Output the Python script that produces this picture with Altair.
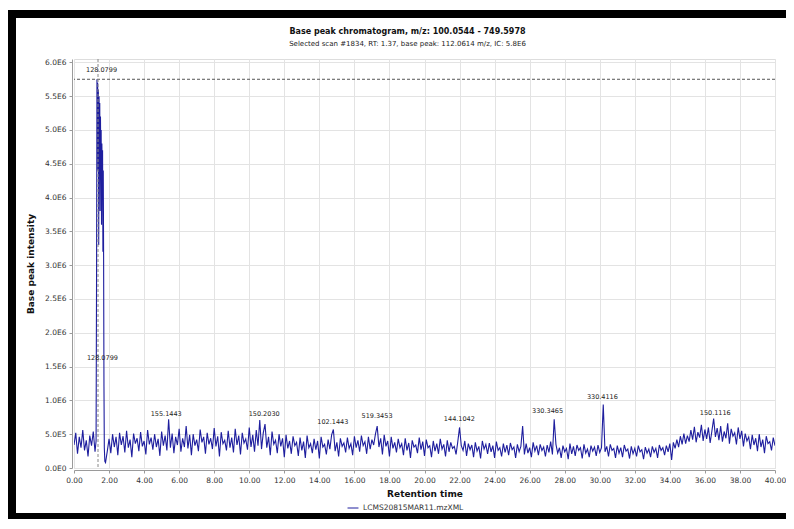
import altair as alt
import pandas as pd

# ---- data (intensities in units of 1e5) ----
pre_rt = [0.0, 0.1, 0.2, 0.3, 0.4, 0.5, 0.6, 0.7, 0.8, 0.9, 1.0, 1.1, 1.2]
pre_int = [3.4, 5.2, 2.1, 4.6, 3.0, 5.6, 2.6, 4.1, 1.7, 4.8, 3.3, 5.4, 2.4]

peak_rt = [1.26, 1.29, 1.31, 1.33, 1.35, 1.37, 1.39, 1.41, 1.43, 1.45, 1.47, 1.49, 1.51,
           1.53, 1.55, 1.57, 1.59, 1.61, 1.63, 1.65, 1.67, 1.69, 1.71, 1.73, 1.76]
peak_int = [4.0, 31.0, 57.5, 46.0, 57.0, 44.0, 56.0, 33.0, 55.0, 47.0, 54.0, 38.0, 52.0,
            45.0, 50.0, 36.0, 48.0, 43.0, 47.0, 32.0, 44.0, 31.0, 12.0, 3.0, 1.0]

post_start = 1.8
post_int = [
    0.8, 2.5, 4.3, 2.2, 5.0, 3.1, 4.6, 1.9, 5.2, 3.4,
    4.7, 2.3, 5.5, 3.0, 4.2, 1.6, 5.1, 3.6, 4.4, 2.5,
    5.3, 3.2, 4.0, 2.0, 5.6, 3.5, 4.5, 2.7, 5.0, 3.1,
    4.3, 1.8, 5.4, 3.3, 4.8, 2.6, 7.2, 3.0, 5.1, 2.2,
    4.6, 3.4, 5.8, 2.4, 4.4, 3.1, 6.2, 2.9, 4.9, 1.9,
    5.0, 3.3, 4.2, 2.5, 5.7, 3.8, 4.6, 2.1, 5.2, 3.5,
    4.4, 2.8, 5.9, 3.2, 4.7, 1.7, 5.3, 3.6, 4.1, 2.6,
    5.5, 3.0, 4.5, 2.3, 5.8, 3.4, 4.8, 2.0, 5.2, 3.7,
    4.3, 2.7, 6.0, 3.1, 4.9, 2.4, 5.6, 3.3, 7.1, 2.8,
    5.2, 6.5, 3.0, 4.6, 1.9, 5.4, 3.5, 4.1, 2.2, 5.0,
    3.2, 4.4, 1.6, 4.9, 2.9, 4.0, 2.1, 4.7, 3.3, 3.8,
    1.8, 4.5, 2.6, 3.9, 1.5, 4.8, 3.0, 3.6, 2.2, 4.3,
    2.7, 4.0, 1.4, 4.6, 3.1, 3.5, 2.0, 4.2, 2.8, 4.9,
    5.7, 2.5, 3.8, 1.7, 4.4, 3.2, 3.7, 2.3, 4.5, 2.9,
    3.6, 1.9, 4.7, 3.0, 4.1, 2.4, 4.8, 3.3, 3.9, 2.1,
    4.6, 2.8, 4.2, 3.4, 5.0, 6.2, 3.1, 4.4, 2.0, 4.9,
    3.2, 4.0, 1.7, 4.6, 2.9, 3.8, 2.3, 4.3, 3.0, 3.6,
    1.9, 4.4, 2.6, 3.7, 1.5, 4.1, 3.1, 3.4, 2.2, 4.5,
    2.7, 3.9, 1.8, 4.2, 3.0, 3.3, 1.6, 4.0, 2.5, 3.6,
    2.1, 4.3, 2.8, 3.5, 1.7, 4.1, 2.4, 3.8, 2.9, 3.2,
    2.0, 3.9, 6.0, 3.3, 2.6, 4.0, 1.8, 3.6, 2.7, 3.4,
    1.6, 3.8, 2.5, 3.2, 1.4, 4.0, 2.8, 3.5, 2.1, 3.7,
    2.4, 3.3, 1.5, 3.9, 2.6, 3.0, 1.7, 3.6, 2.3, 3.4,
    1.9, 3.7, 2.7, 3.1, 1.5, 3.5, 2.4, 3.2, 6.2, 2.0,
    3.6, 2.2, 3.0, 1.6, 3.8, 2.5, 3.3, 1.9, 3.5, 2.6,
    3.1, 1.7, 3.4, 2.3, 3.9, 2.0, 7.2, 3.5, 2.2, 3.0,
    1.5, 3.3, 2.4, 2.9, 1.3, 3.6, 2.1, 3.2, 1.8, 3.4,
    2.6, 3.0, 1.4, 3.5, 2.2, 2.8, 1.6, 3.3, 2.5, 3.1,
    1.8, 3.4, 2.3, 3.0, 9.4, 2.4, 3.2, 1.7, 3.5, 2.6,
    2.9, 1.5, 3.3, 2.2, 3.0, 1.6, 3.4, 2.5, 2.8, 1.4,
    3.2, 2.1, 2.9, 1.7, 3.3, 2.4, 2.7, 1.3, 3.1, 2.2,
    2.8, 1.6, 3.2, 2.3, 2.9, 1.5, 3.4, 2.6, 3.0, 1.9,
    3.3, 2.4, 3.6, 1.2, 3.8, 2.9, 4.2, 3.1, 4.7, 3.5,
    5.1, 3.6, 4.8, 3.9, 5.6, 4.2, 6.1, 3.8, 5.3, 4.5,
    6.4, 4.0, 5.7, 4.3, 6.0, 3.7, 5.5, 7.3, 4.6, 5.9,
    4.1, 6.2, 3.9, 5.4, 4.4, 6.6, 3.6, 5.8, 4.7, 5.2,
    3.5, 6.0, 4.3, 5.5, 3.2, 5.1, 4.0, 4.6, 2.8, 4.9,
    3.4, 4.4, 2.5, 5.0, 3.1, 4.2, 2.2, 4.7, 3.6, 3.9,
    2.6, 4.5, 3.3,
]

label_text = ["128.0799", "128.0799", "155.1443", "150.2030", "102.1443", "519.3453",
              "144.1042", "330.3465", "330.4116", "150.1116"]
label_rt = [1.57, 1.62, 5.26, 10.85, 14.77, 17.29, 21.99, 27.02, 30.15, 36.59]
label_int = [58.8, 16.2, 8.0, 8.0, 6.8, 7.7, 7.2, 8.4, 10.5, 8.1]

x_ticks = [0, 2, 4, 6, 8, 10, 12, 14, 16, 18, 20, 22, 24, 26, 28, 30, 32, 34, 36, 38, 40]
y_ticks = [0, 5e5, 1e6, 1.5e6, 2e6, 2.5e6, 3e6, 3.5e6, 4e6, 4.5e6, 5e6, 5.5e6, 6e6]

selected_rt = 1.37
selected_int = 57.5
file_name = "LCMS20815MAR11.mzXML"

# ---- build tables ----
post_rt = [round(post_start + 0.1 * i, 1) for i in range(len(post_int))]
df = pd.DataFrame({
    "rt": pre_rt + peak_rt + post_rt,
    "intensity": [v * 1e5 for v in pre_int + peak_int + post_int],
    "file": file_name,
})
labels = pd.DataFrame({
    "rt": label_rt,
    "intensity": [v * 1e5 for v in label_int],
    "text": label_text,
})

FONT = "DejaVu Sans"
W, H = 701, 409
PAD = {"left": 66, "top": 51, "right": 11, "bottom": 51}

xscale = alt.Scale(domain=[0, 40], nice=False, zero=False)
yscale = alt.Scale(domain=[0, 6.05e6], nice=False)

X = alt.X("rt:Q", scale=xscale,
          axis=alt.Axis(values=x_ticks, format=".2f", title="Retention time",
                        labelFontSize=7.5, titleFontSize=9, titleFontWeight="bold",
                        titleColor="#111", labelColor="#333", grid=True, labelFlush=False,
                        labelOverlap=False,
                        gridColor="#e3e3e3", domainColor="#9a9a9a", tickColor="#9a9a9a",
                        tickSize=3, offset=2, titlePadding=6, labelPadding=3))
Y = alt.Y("intensity:Q", scale=yscale,
          axis=alt.Axis(values=y_ticks, title="Base peak intensity",
                        labelExpr="replace(format(datum.value, '.1e'), 'e+', 'E')",
                        labelFontSize=7.5, titleFontSize=9, titleFontWeight="bold",
                        titleColor="#111", labelColor="#333", grid=True, labelFlush=False,
                        labelOverlap=False,
                        gridColor="#e3e3e3", domainColor="#9a9a9a", tickColor="#9a9a9a",
                        tickSize=3, offset=2, titlePadding=9, labelPadding=3))

line = alt.Chart(df).mark_line(strokeWidth=1.1, clip=True).encode(
    x=X, y=Y,
    color=alt.Color("file:N", scale=alt.Scale(range=["#1e1e9e"]),
                    legend=alt.Legend(title=None, orient="none", legendX=273, legendY=443,
                                      symbolType="stroke", symbolStrokeWidth=1,
                                      symbolSize=120, labelFontSize=7.5, labelColor="#333",
                                      labelFont=FONT)),
)

hline = alt.Chart(pd.DataFrame({"intensity": [selected_int * 1e5]})).mark_rule(
    color="#555", strokeDash=[3, 2], strokeWidth=1).encode(y=Y)
vline = alt.Chart(pd.DataFrame({"rt": [selected_rt]})).mark_rule(
    color="#888", strokeDash=[3, 2], strokeWidth=1).encode(x=X)

text = alt.Chart(labels).mark_text(fontSize=6.5, font=FONT, color="#222",
                                   baseline="middle").encode(x=X, y=Y, text="text:N")

# decorative black frame of the screenshot (outside the plot area)
one = alt.Data(values=[{"a": 1}])
frame_top = alt.Chart(one).mark_rect(color="black").encode(
    x=alt.value(-66), x2=alt.value(712), y=alt.value(-49), y2=alt.value(-41))
frame_left = alt.Chart(one).mark_rect(color="black").encode(
    x=alt.value(-66), x2=alt.value(-58), y=alt.value(-49), y2=alt.value(460))
frame_bottom = alt.Chart(one).mark_rect(color="black").encode(
    x=alt.value(-66), x2=alt.value(712), y=alt.value(454), y2=alt.value(460))

chart = alt.layer(line, hline, vline, text, frame_top, frame_left, frame_bottom).properties(
    width=W, height=H,
    padding=PAD,
    autosize="none",
    title=alt.TitleParams(
        text="Base peak chromatogram, m/z: 100.0544 - 749.5978",
        subtitle="Selected scan #1834, RT: 1.37, base peak: 112.0614 m/z, IC: 5.8E6",
        anchor="middle", frame="group", dx=-17, dy=45, offset=8,
        font=FONT, fontSize=8, fontWeight="bold", color="#111",
        subtitleFont=FONT, subtitleFontSize=7, subtitleColor="#222", subtitlePadding=4),
).configure_view(stroke="#a0a0a0", strokeWidth=1).configure(
    background="white", font=FONT)

chart.save("out.html", embed_options={"renderer": "svg", "actions": False})
